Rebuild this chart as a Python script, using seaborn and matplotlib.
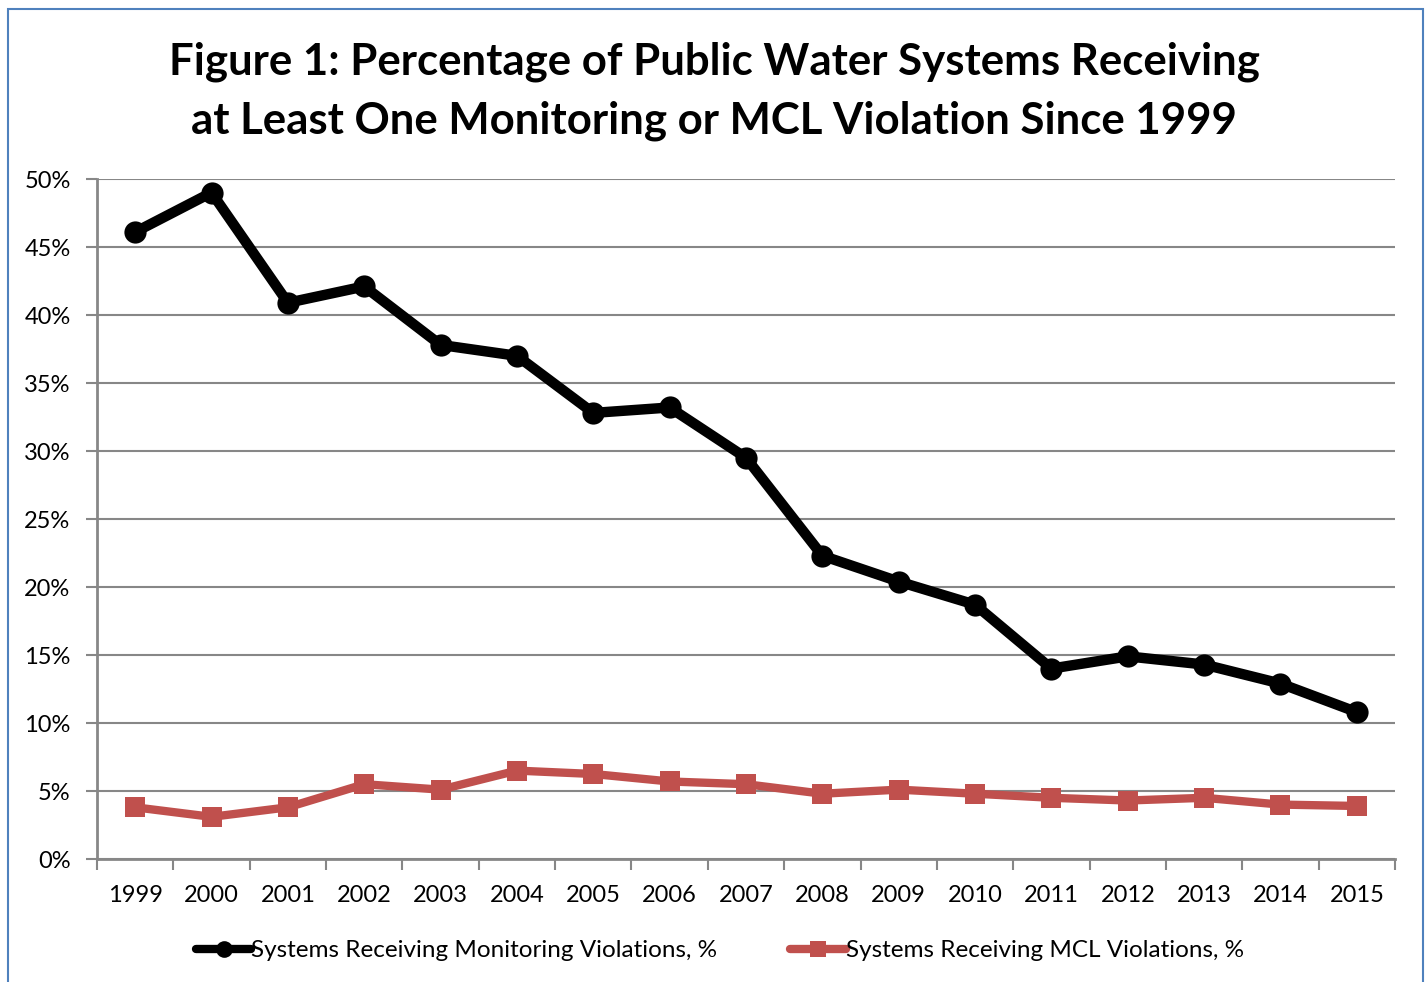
import matplotlib
matplotlib.use("Agg")
import matplotlib.pyplot as plt
import seaborn as sns
import pandas as pd
import numpy as np
from matplotlib.patches import Rectangle
from matplotlib.ticker import FixedLocator, PercentFormatter

years = list(range(1999, 2016))
monitoring = [46.1, 49.0, 40.9, 42.1, 37.8, 37.0, 32.8, 33.2, 29.5, 22.3,
              20.4, 18.7, 14.0, 14.9, 14.3, 12.9, 10.8]
mcl = [3.8, 3.1, 3.8, 5.5, 5.1, 6.5, 6.25, 5.7, 5.5, 4.8,
       5.1, 4.8, 4.5, 4.3, 4.5, 4.0, 3.9]
label_mon = "Systems Receiving Monitoring Violations, %"
label_mcl = "Systems Receiving MCL Violations, %"
title = "Figure 1: Percentage of Public Water Systems Receiving\nat Least One Monitoring or MCL Violation Since 1999"

sns.set_theme(style="white")
plt.rcParams["font.family"] = ["Lato", "DejaVu Sans"]
plt.rcParams["text.color"] = "black"
plt.rcParams["xtick.color"] = "black"
plt.rcParams["ytick.color"] = "black"

df = pd.DataFrame({"year": years, label_mon: monitoring, label_mcl: mcl})

fig = plt.figure(figsize=(14.28, 9.82), dpi=100)
ax = fig.add_axes([97 / 1428, 1 - 859 / 982, (1395 - 97) / 1428, (859 - 179) / 982])

grid_c = "#878787"
sns.lineplot(data=df, x="year", y=label_mon, ax=ax, color="black", lw=7.5,
             marker="o", markersize=16, markeredgewidth=0, label=label_mon,
             solid_joinstyle="round", solid_capstyle="round")
sns.lineplot(data=df, x="year", y=label_mcl, ax=ax, color="#C0504D", lw=6,
             marker="s", markersize=14, markeredgewidth=0, label=label_mcl)

ax.set_xlim(1998.5, 2015.5)
ax.set_ylim(0, 50)
ax.set_xlabel("")
ax.set_ylabel("")
ax.set_yticks(np.arange(0, 51, 5))
ax.yaxis.set_major_formatter(PercentFormatter(decimals=0))
ax.set_xticks(years)
ax.xaxis.set_minor_locator(FixedLocator(np.arange(1998.5, 2016, 1)))
ax.tick_params(axis="x", which="major", length=0, pad=19, labelsize=17, labelcolor="black")
ax.tick_params(axis="x", which="minor", length=8, width=1.5, color=grid_c, bottom=True, direction="out")
ax.tick_params(axis="y", which="major", length=8, width=1.5, color=grid_c, left=True,
               direction="out", pad=11, labelsize=17, labelcolor="black")
ax.grid(axis="y", color=grid_c, lw=1.5)
ax.set_axisbelow(True)
for s in ["top", "right"]:
    ax.spines[s].set_visible(False)
for s in ["left", "bottom"]:
    ax.spines[s].set_color(grid_c)
    ax.spines[s].set_linewidth(2)

leg = ax.legend(loc="center", bbox_to_anchor=(0.48, -0.135), ncol=2, frameon=False,
                fontsize=17.5, handlelength=2.3, handletextpad=0.0, columnspacing=3.0)
for h in leg.legend_handles:
    h.set_linewidth(6)
    h.set_markersize(12)

fig.text(0.5, 1 - 91 / 982, title, ha="center", va="center", fontsize=31.5,
         fontweight="bold", linespacing=1.55, color="black")

fig.patches.append(Rectangle((8 / 1428, -0.05), (1423 - 8) / 1428, 1.05 - 9 / 982,
                             transform=fig.transFigure, fill=False,
                             edgecolor="#4F81BD", lw=1.5))

fig.savefig("out.png", dpi=100, facecolor="white")
